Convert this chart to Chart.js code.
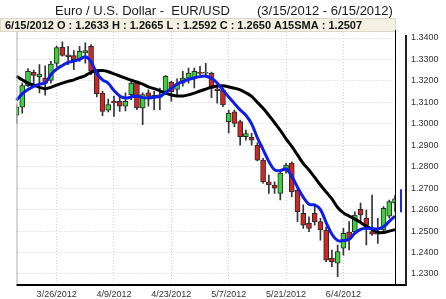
<!DOCTYPE html>
<html><head><meta charset="utf-8">
<script src="https://cdn.jsdelivr.net/npm/chart.js@4/dist/chart.umd.min.js"></script>
<style>html,body{margin:0;padding:0;background:#fff;}#wrap{width:446px;height:299px;position:relative;}</style>
</head><body><div id="wrap"><canvas id="c" width="446" height="299"></canvas></div>
<script>
const dates = ['3/15/2012','3/16/2012','3/19/2012','3/20/2012','3/21/2012','3/22/2012','3/23/2012','3/26/2012','3/27/2012','3/28/2012','3/29/2012','3/30/2012',
'4/2/2012','4/3/2012','4/4/2012','4/5/2012','4/6/2012','4/9/2012','4/10/2012','4/11/2012','4/12/2012','4/13/2012','4/16/2012','4/17/2012','4/18/2012','4/19/2012','4/20/2012','4/23/2012','4/24/2012','4/25/2012','4/26/2012','4/27/2012','4/30/2012',
'5/1/2012','5/2/2012','5/3/2012','5/4/2012','5/7/2012','5/8/2012','5/9/2012','5/10/2012','5/11/2012','5/14/2012','5/15/2012','5/16/2012','5/17/2012','5/18/2012','5/21/2012','5/22/2012','5/23/2012','5/24/2012','5/25/2012','5/28/2012','5/29/2012','5/30/2012','5/31/2012',
'6/1/2012','6/4/2012','6/5/2012','6/6/2012','6/7/2012','6/8/2012','6/11/2012','6/12/2012','6/13/2012','6/14/2012','6/15/2012'];
const openV = [1.3040,1.3078,1.3178,1.3240,1.3220,1.3213,1.3202,1.3282,1.3357,1.3322,1.3318,1.3299,
1.3330,1.3361,1.3240,1.3143,1.3064,1.3105,1.3105,1.3082,1.3136,1.3190,1.3074,1.3144,1.3133,1.3123,1.3151,1.3195,1.3160,1.3190,1.3213,1.3213,1.3240,
1.3236,1.3235,1.3163,1.3158,1.3010,1.3056,1.3010,1.2940,1.2937,1.2900,1.2831,1.2730,1.2715,1.2676,1.2780,1.2817,1.2691,1.2583,1.2536,1.2583,1.2544,1.2505,1.2373,
1.2350,1.2420,1.2495,1.2497,1.2602,1.2560,1.2498,1.2486,1.2505,1.2570,1.2633];
const highV = [1.3088,1.3190,1.3258,1.3250,1.3276,1.3270,1.3291,1.3362,1.3382,1.3361,1.3341,1.3361,
1.3377,1.3369,1.3250,1.3152,1.3115,1.3128,1.3128,1.3144,1.3206,1.3198,1.3144,1.3159,1.3151,1.3167,1.3225,1.3198,1.3210,1.3245,1.3260,1.3260,1.3268,
1.3282,1.3241,1.3181,1.3166,1.3064,1.3064,1.3018,1.2971,1.2956,1.2911,1.2839,1.2761,1.2730,1.2785,1.2816,1.2823,1.2699,1.2622,1.2567,1.2622,1.2560,1.2520,1.2412,
1.2435,1.2513,1.2544,1.2590,1.2631,1.2598,1.2668,1.2560,1.2614,1.2645,1.2665];
const lowV = [1.3002,1.3050,1.3173,1.3178,1.3144,1.3134,1.3190,1.3266,1.3315,1.3276,1.3252,1.3291,
1.3283,1.3229,1.3125,1.3038,1.3056,1.3035,1.3058,1.3060,1.3112,1.3066,1.2996,1.3082,1.3066,1.3066,1.3144,1.3105,1.3135,1.3175,1.3190,1.3167,1.3229,
1.3227,1.3122,1.3096,1.3080,1.2957,1.2987,1.2901,1.2924,1.2901,1.2827,1.2723,1.2676,1.2676,1.2645,1.2770,1.2660,1.2544,1.2513,1.2497,1.2528,1.2458,1.2357,1.2334,
1.2287,1.2388,1.2412,1.2489,1.2542,1.2435,1.2480,1.2443,1.2500,1.2560,1.2592];
const closeV = [1.3078,1.3178,1.3245,1.3226,1.3232,1.3190,1.3278,1.3355,1.3319,1.3312,1.3299,1.3338,
1.3341,1.3245,1.3140,1.3058,1.3090,1.3097,1.3082,1.3105,1.3190,1.3074,1.3136,1.3128,1.3123,1.3135,1.3221,1.3150,1.3185,1.3213,1.3237,1.3245,1.3235,
1.3240,1.3165,1.3155,1.3088,1.3049,1.3002,1.2940,1.2955,1.2924,1.2831,1.2730,1.2715,1.2700,1.2770,1.2808,1.2683,1.2590,1.2528,1.2513,1.2544,1.2505,1.2365,1.2357,
1.2405,1.2489,1.2462,1.2575,1.2575,1.2528,1.2486,1.2500,1.2606,1.2637,1.2650];
const sma5 = [1.3110,1.3140,1.3160,1.3175,1.3185,1.3190,1.3230,1.3255,1.3272,1.3286,1.3293,1.3300,
1.3313,1.3290,1.3235,1.3205,1.3189,1.3155,1.3130,1.3120,1.3125,1.3130,1.3122,1.3120,1.3124,1.3128,1.3145,1.3165,1.3185,1.3198,1.3207,1.3214,1.3220,
1.3222,1.3212,1.3190,1.3158,1.3125,1.3095,1.3065,1.3040,1.3000,1.2935,1.2880,1.2825,1.2785,1.2782,1.2790,1.2755,1.2705,1.2658,1.2625,1.2622,1.2600,1.2540,1.2485,
1.2456,1.2456,1.2462,1.2490,1.2508,1.2513,1.2512,1.2510,1.2520,1.2545,1.2570];
const sma15 = [1.3222,1.3205,1.3190,1.3180,1.3170,1.3164,1.3170,1.3180,1.3190,1.3198,1.3205,1.3215,
1.3225,1.3240,1.3247,1.3248,1.3243,1.3233,1.3223,1.3213,1.3203,1.3195,1.3185,1.3172,1.3164,1.3154,1.3143,1.3134,1.3130,1.3130,1.3135,1.3143,1.3153,
1.3162,1.3171,1.3176,1.3177,1.3172,1.3166,1.3158,1.3145,1.3128,1.3100,1.3072,1.3040,1.3005,1.2970,1.2930,1.2895,1.2855,1.2815,1.2785,1.2750,1.2715,1.2682,1.2650,
1.2610,1.2585,1.2570,1.2556,1.2540,1.2523,1.2508,1.2494,1.2493,1.2500,1.2507];
const yTicks = [1.23,1.24,1.25,1.26,1.27,1.28,1.29,1.30,1.31,1.32,1.33,1.34];
const xTickDates = ['3/26/2012','4/9/2012','4/23/2012','5/7/2012','5/21/2012','6/4/2012'];
const priceMarker = [1.2588, 1.2695];
const titleMain = 'Euro / U.S. Dollar -  EUR/USD';
const titleRange = '(3/15/2012 - 6/15/2012)';
const smaName = 'A15SMA';

const last = dates.length - 1;
const infoText = dates[last] + ' O : ' + openV[last].toFixed(4) + ' H : ' + highV[last].toFixed(4) +
  ' L : ' + lowV[last].toFixed(4) + ' C : ' + closeV[last].toFixed(4) + ' ' + smaName + ' : ' + sma15[last].toFixed(4);

const bodies = openV.map((o, i) => [o, closeV[i]]);
const wicks = lowV.map((l, i) => [l, highV[i]]);
const bodyColors = openV.map((o, i) => closeV[i] >= o ? '#3ad13a' : '#cf2626');

const FONT = "'Liberation Sans', Arial, sans-serif";

const decor = {
  id: 'decor',
  beforeDraw(chart) {
    const c = chart.ctx;
    c.save(); c.fillStyle = '#fff'; c.fillRect(0, 0, chart.width, chart.height); c.restore();
  },
  afterDraw(chart) {
    const c = chart.ctx, a = chart.chartArea, ys = chart.scales.y;
    c.save();
    c.fillStyle = '#1a1a1a';
    c.font = '13px ' + FONT;
    c.textBaseline = 'alphabetic';
    c.textAlign = 'left';
    c.fillText(titleMain, 55, 14.5);
    c.fillText(titleRange, 257, 14.5);
    c.fillStyle = '#f4f0e3';
    c.fillRect(0, 18, 395.5, 14);
    c.strokeStyle = '#dcd7c8'; c.lineWidth = 1;
    c.strokeRect(0.5, 18.5, 395, 13);
    c.fillStyle = '#111';
    c.font = 'bold 11px ' + FONT;
    c.fillText(infoText, 5, 29);
    c.strokeStyle = '#b0b0b0'; c.lineWidth = 1;
    c.beginPath(); c.moveTo(a.left + 0.5, a.top); c.lineTo(a.left + 0.5, a.bottom); c.stroke();
    c.strokeStyle = '#000';
    c.beginPath(); c.moveTo(a.right + 0.5, 30); c.lineTo(a.right + 0.5, a.bottom); c.stroke();
    c.lineWidth = 2;
    c.beginPath(); c.moveTo(a.left, a.bottom + 1); c.lineTo(406, a.bottom + 1); c.stroke();
    c.strokeStyle = '#222';
    c.beginPath(); c.moveTo(406, 35); c.lineTo(406, a.bottom + 2); c.stroke();
    c.strokeStyle = '#1a2ad8'; c.lineWidth = 2;
    c.beginPath(); c.moveTo(401, ys.getPixelForValue(priceMarker[0])); c.lineTo(401, ys.getPixelForValue(priceMarker[1])); c.stroke();
    c.restore();
  }
};

const pxPerUnit = 2145.45;
new Chart(document.getElementById('c'), {
  type: 'bar',
  data: {
    labels: dates,
    datasets: [
      { type: 'line', data: sma5, borderColor: '#0f1ee6', borderWidth: 3, pointRadius: 0, tension: 0.35, order: 0 },
      { type: 'line', data: sma15, borderColor: '#000000', borderWidth: 3, pointRadius: 0, tension: 0.35, order: 1 },
      { type: 'bar', data: bodies, backgroundColor: bodyColors, borderColor: '#2a2a2a', borderWidth: 1, borderSkipped: false, barThickness: 5, grouped: false, order: 2 },
      { type: 'bar', data: wicks, backgroundColor: '#333333', barThickness: 1, grouped: false, order: 3 }
    ]
  },
  options: {
    responsive: false, animation: false, devicePixelRatio: 1,
    layout: { padding: { left: 16.5, top: 32, right: 0, bottom: 0 } },
    plugins: { legend: { display: false }, tooltip: { enabled: false }, title: { display: false } },
    scales: {
      x: {
        offset: false,
        grid: { offset: false, color: '#d2d2d2', drawTicks: false },
        border: { display: false, dash: [1, 2] },
        ticks: { autoSkip: false, maxRotation: 0, padding: 5, color: '#333', font: { family: FONT, size: 9 } },
        afterBuildTicks: ax => { ax.ticks = xTickDates.map(d => ({ value: dates.indexOf(d) })); },
        afterFit: ax => { ax.height = 15; ax.paddingLeft = 0; ax.paddingRight = 0; }
      },
      y: {
        position: 'right',
        min: 1.23 - 10 / pxPerUnit,
        max: 1.34 + 6 / pxPerUnit,
        grid: { color: '#d2d2d2', drawTicks: false },
        border: { display: false, dash: [1, 2] },
        ticks: { padding: 16, color: '#333', font: { family: FONT, size: 9 }, callback: v => Number(v).toFixed(4) },
        afterBuildTicks: ax => { ax.ticks = yTicks.map(v => ({ value: v })); },
        afterFit: ax => { ax.width = 51; ax.paddingTop = 0; ax.paddingBottom = 0; }
      }
    }
  },
  plugins: [decor]
});
</script></body></html>
